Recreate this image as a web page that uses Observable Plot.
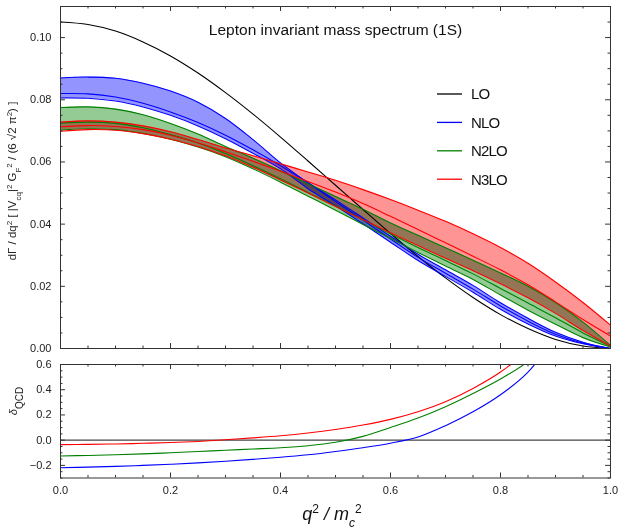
<!DOCTYPE html>
<html><head><meta charset="utf-8">
<script src="https://cdn.jsdelivr.net/npm/d3@7"></script>
<script src="https://cdn.jsdelivr.net/npm/@observablehq/plot@0.6"></script>
<style>
body{margin:0;background:#fff;}
#chart{position:relative;width:620px;height:530px;font-family:"Liberation Sans",Arial,sans-serif;}
#chart svg{position:absolute;left:0;overflow:visible;}
</style></head><body><div id="chart"></div>
<script>
// ---------- data ----------
const q2 = [0,0.05,0.1,0.15,0.2,0.25,0.3,0.35,0.4,0.45,0.5,0.55,0.6,0.65,0.7,0.75,0.8,0.85,0.9,0.95,1.0];
const lo = [0.1050,0.1042,0.1021,0.0986,0.0941,0.0886,0.0823,0.0754,0.0680,0.0603,0.0525,0.0447,0.0370,0.0296,0.0227,0.0164,0.0109,0.0064,0.0029,0.0008,0.0000];
const nloCentral = [0.0820,0.0819,0.0809,0.0789,0.0761,0.0727,0.0686,0.0639,0.0588,0.0533,0.0478,0.0420,0.0361,0.0303,0.0253,0.0203,0.0147,0.0097,0.0052,0.0020,0.0000];
const nloUp = [0.0870,0.0873,0.0869,0.0853,0.0828,0.0792,0.0740,0.0672,0.0597,0.0533,0.0473,0.0413,0.0352,0.0293,0.0242,0.0191,0.0137,0.0088,0.0046,0.0017,0.0000];
const nloDown = [0.0806,0.0805,0.0796,0.0777,0.0750,0.0716,0.0675,0.0628,0.0578,0.0514,0.0459,0.0401,0.0342,0.0283,0.0232,0.0181,0.0126,0.0079,0.0040,0.0015,0.0000];
const n2loCentral = [0.0725,0.0728,0.0724,0.0710,0.0688,0.0661,0.0627,0.0588,0.0546,0.0502,0.0458,0.0414,0.0369,0.0325,0.0283,0.0240,0.0193,0.0146,0.0099,0.0050,0.0007];
const n2loUp = [0.0775,0.0777,0.0770,0.0752,0.0724,0.0690,0.0650,0.0612,0.0572,0.0530,0.0489,0.0448,0.0404,0.0364,0.0324,0.0284,0.0243,0.0200,0.0148,0.0085,0.0010];
const n2loDown = [0.0703,0.0707,0.0704,0.0692,0.0673,0.0648,0.0617,0.0578,0.0535,0.0490,0.0445,0.0399,0.0354,0.0309,0.0265,0.0222,0.0172,0.0123,0.0078,0.0035,0.0005];
const n3loCentral = [0.0713,0.0717,0.0714,0.0704,0.0686,0.0662,0.0633,0.0602,0.0570,0.0537,0.0503,0.0466,0.0425,0.0383,0.0340,0.0297,0.0253,0.0205,0.0150,0.0093,0.0040];
const n3loUp = [0.0728,0.0732,0.0728,0.0716,0.0697,0.0672,0.0645,0.0620,0.0594,0.0568,0.0541,0.0511,0.0479,0.0445,0.0409,0.0369,0.0325,0.0274,0.0214,0.0148,0.0075];
const n3loDown = [0.0699,0.0704,0.0702,0.0691,0.0673,0.0650,0.0620,0.0583,0.0542,0.0500,0.0457,0.0414,0.0372,0.0331,0.0290,0.0250,0.0208,0.0163,0.0113,0.0058,0.0008];

// lower panel: delta_QCD
const q2d = [0,0.05,0.1,0.15,0.2,0.25,0.3,0.35,0.4,0.45,0.5,0.55,0.6,0.65,0.7,0.75,0.8,0.85,0.9];
const deltaNLO  = [-0.219,-0.214,-0.208,-0.200,-0.191,-0.180,-0.167,-0.152,-0.136,-0.116,-0.090,-0.060,-0.024,0.025,0.115,0.225,0.360,0.540,0.820];
const deltaN2LO = [-0.125,-0.121,-0.116,-0.109,-0.100,-0.090,-0.080,-0.070,-0.060,-0.044,-0.017,0.030,0.100,0.175,0.265,0.370,0.485,0.625,0.850];
const deltaN3LO = [-0.035,-0.033,-0.030,-0.025,-0.019,-0.010,0.003,0.018,0.035,0.057,0.085,0.120,0.165,0.225,0.305,0.410,0.540,0.720,1.000];

const orders = ["LO","NLO","N2LO","N3LO"];
const colors = ["#000000","#0000ff","#008000","#ff0000"];

const xMajor = [0,0.2,0.4,0.6,0.8,1.0];
const xMinor = d3.range(0,1.0001,0.05).filter(v => Math.abs(v*5 - Math.round(v*5)) > 1e-6);
const yMajorTop = [0,0.02,0.04,0.06,0.08,0.10];
const yMinorTop = d3.range(0,0.1101,0.005).filter(v => Math.abs(v*50 - Math.round(v*50)) > 1e-6);
const yMajorBot = [-0.2,0,0.2,0.4,0.6];
const yMinorBot = d3.range(-0.3,0.6001,0.05).filter(v => Math.abs(v*5 - Math.round(v*5)) > 1e-6);

// ---------- tables ----------
const bands = [
  {name:"NLO", c:nloCentral, a:nloUp, b:nloDown},
  {name:"N2LO", c:n2loCentral, a:n2loUp, b:n2loDown},
  {name:"N3LO", c:n3loCentral, a:n3loUp, b:n3loDown}
];
const bandRows = bands.flatMap(s => q2.map((x,i) => ({name:s.name, x, y1:Math.min(s.a[i],s.b[i],s.c[i]), y2:Math.max(s.a[i],s.b[i],s.c[i])})));
const lineRows = [{name:"LO", key:"LO", v:lo}].concat(bands.flatMap(s => [
  {name:s.name, key:s.name+"a", v:s.a},{name:s.name, key:s.name+"b", v:s.b},{name:s.name, key:s.name+"c", v:s.c}
])).flatMap(s => q2.map((x,i) => ({name:s.name, key:s.key, x, y:s.v[i]})));
const deltaRows = [["NLO",deltaNLO],["N2LO",deltaN2LO],["N3LO",deltaN3LO]]
  .flatMap(([name,v]) => q2d.map((x,i) => ({name, x, y:v[i]})));

const colorScale = {domain: orders, range: colors};
const curve = "catmull-rom";
const tickColor = "#333";
const W = 620, mL = 60, mR = 10;

// ---------- top panel ----------
const topH = 355;
const topPlot = Plot.plot({
  width: W, height: topH,
  marginLeft: mL, marginRight: mR, marginTop: 6, marginBottom: 7,
  style: {fontFamily: "Liberation Sans, Arial, sans-serif", fontSize: "11px", color: "#222", background: "transparent"},
  x: {domain: [0,1], axis: null},
  y: {domain: [0,0.11], axis: null},
  color: colorScale,
  marks: [
    Plot.areaY(bandRows, {x:"x", y1:"y1", y2:"y2", z:"name", fill:"name", fillOpacity:0.42, curve}),
    Plot.lineY(lineRows, {x:"x", y:"y", z:"key", stroke:"name", strokeWidth:1.1, curve}),
    Plot.frame({stroke: tickColor, strokeWidth: 1}),
    Plot.ruleY(yMajorTop, {x1:0, x2:0.009, stroke:tickColor}),
    Plot.ruleY(yMajorTop, {x1:1, x2:0.991, stroke:tickColor}),
    Plot.ruleY(yMinorTop, {x1:0, x2:0.0045, stroke:tickColor}),
    Plot.ruleY(yMinorTop, {x1:1, x2:0.9955, stroke:tickColor}),
    Plot.ruleX(xMajor, {y1:0, y2:0.0016, stroke:tickColor}),
    Plot.ruleX(xMajor, {y1:0.11, y2:0.1084, stroke:tickColor}),
    Plot.ruleX(xMinor, {y1:0, y2:0.0008, stroke:tickColor}),
    Plot.ruleX(xMinor, {y1:0.11, y2:0.1092, stroke:tickColor}),
    Plot.axisY({ticks: yMajorTop, tickSize: 0, tickPadding: 9, tickFormat: d3.format(".2f"), label: null}),
    Plot.text(["Lepton invariant mass spectrum (1S)"], {frameAnchor:"top", dy:17, fontSize:15.5, fill:"#111"})
  ]
});
topPlot.style.top = "0px";
// overlapping translucent bands darken each other (brown / purple overlaps)
d3.select(topPlot).selectAll('g[aria-label="area"] path').style("mix-blend-mode", "multiply");

// ---------- bottom panel ----------
const botH = 175;
const botPlot = Plot.plot({
  width: W, height: botH,
  marginLeft: mL, marginRight: mR, marginTop: 9, marginBottom: 52.5,
  style: {fontFamily: "Liberation Sans, Arial, sans-serif", fontSize: "11px", color: "#222", background: "transparent"},
  x: {domain: [0,1], axis: null},
  y: {domain: [-0.3,0.6], axis: null},
  color: colorScale,
  marks: [
    Plot.ruleY([0], {stroke:"#444", strokeWidth:1.1}),
    Plot.lineY(deltaRows, {x:"x", y:"y", z:"name", stroke:"name", strokeWidth:1.1, curve, clip: true}),
    Plot.frame({stroke: tickColor, strokeWidth: 1}),
    Plot.ruleY(yMajorBot, {x1:0, x2:0.009, stroke:tickColor}),
    Plot.ruleY(yMajorBot, {x1:1, x2:0.991, stroke:tickColor}),
    Plot.ruleY(yMinorBot, {x1:0, x2:0.0045, stroke:tickColor}),
    Plot.ruleY(yMinorBot, {x1:1, x2:0.9955, stroke:tickColor}),
    Plot.ruleX(xMajor, {y1:-0.3, y2:-0.26, stroke:tickColor}),
    Plot.ruleX(xMajor, {y1:0.6, y2:0.56, stroke:tickColor}),
    Plot.ruleX(xMinor, {y1:-0.3, y2:-0.28, stroke:tickColor}),
    Plot.ruleX(xMinor, {y1:0.6, y2:0.58, stroke:tickColor}),
    Plot.axisY({ticks: yMajorBot, tickSize: 0, tickPadding: 9, tickFormat: d3.format(".1f"), label: null}),
    Plot.axisX({ticks: xMajor, tickSize: 0, tickPadding: 8, tickFormat: d3.format(".1f"), label: null})
  ]
});
botPlot.style.top = topH + "px";

const chart = document.getElementById("chart");
chart.append(topPlot, botPlot);

// ---------- legend (top panel) ----------
const tsvg = d3.select(topPlot);
const leg = tsvg.append("g").attr("font-size", 15).attr("fill", "#111").attr("text-anchor", "start");
orders.forEach((name, i) => {
  const y = 94 + i * 28.4;
  leg.append("line").attr("x1", 437).attr("x2", 462).attr("y1", y).attr("y2", y)
    .attr("stroke", colors[i]).attr("stroke-width", 1.3);
  leg.append("text").attr("x", 471).attr("y", y).attr("dy", "0.36em").attr("letter-spacing", "-0.8").text(name);
});

// ---------- y label (top) ----------
const yl = tsvg.append("text").attr("transform", "translate(16,181) rotate(-90)")
  .attr("text-anchor", "middle").attr("font-size", 11.5).attr("fill", "#222");
const parts = [
  ["dΓ / dq",0],["2",1],[" [ |V",0],["cq",-1],["|",0],["2",1],[" G",0],["F",-1],["2",1],[" / (6 √2 π",0],["2",1],[") ]",0]
];
parts.forEach(([t,s]) => {
  const ts = yl.append("tspan").text(t);
  if (s === 1) ts.attr("baseline-shift", "super").attr("font-size", 8);
  if (s === -1) ts.attr("baseline-shift", "sub").attr("font-size", 8);
});

// ---------- bottom labels ----------
const bsvg = d3.select(botPlot);
const dl = bsvg.append("text").attr("transform", "translate(17,46) rotate(-90)")
  .attr("text-anchor", "middle").attr("font-size", 11).attr("fill", "#222");
dl.append("tspan").text("δ").attr("font-style", "italic");
dl.append("tspan").text("QCD").attr("baseline-shift", "sub").attr("font-size", 10);

const xl = bsvg.append("text").attr("x", 332).attr("y", 165).attr("text-anchor", "middle")
  .attr("font-size", 18).attr("fill", "#111").attr("font-style", "italic");
xl.append("tspan").text("q");
xl.append("tspan").text("2").attr("baseline-shift", "super").attr("font-size", 12).attr("font-style", "normal");
xl.append("tspan").text(" / m").attr("font-style", "italic");
xl.append("tspan").text("c").attr("baseline-shift", "sub").attr("font-size", 12);
xl.append("tspan").text("2").attr("baseline-shift", "super").attr("font-size", 12).attr("font-style", "normal");
</script>
</body></html>
